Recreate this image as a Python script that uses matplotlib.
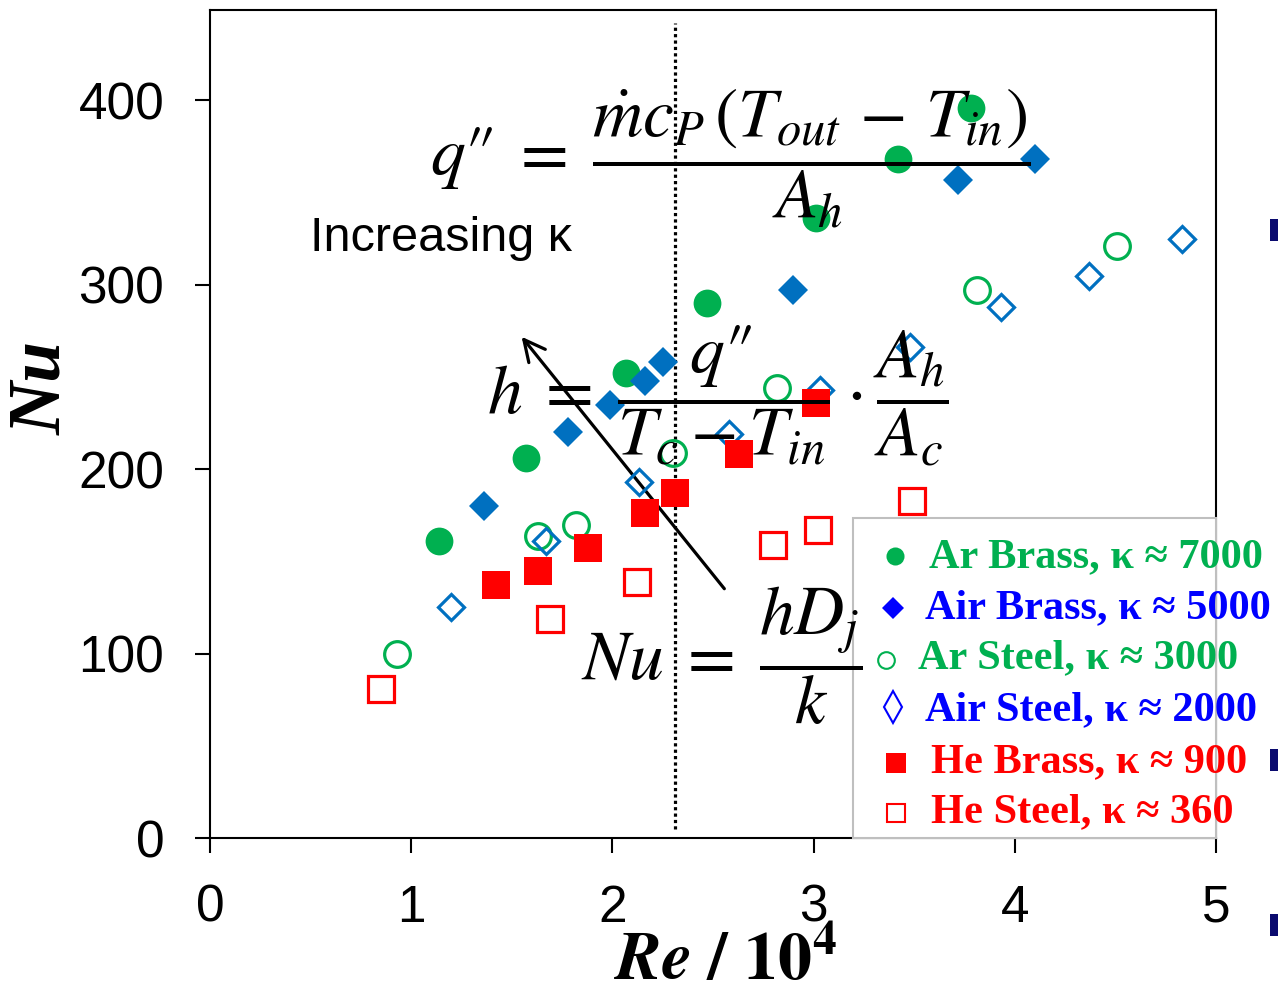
import numpy as np
import matplotlib
matplotlib.use('Agg')
import matplotlib.pyplot as plt
from matplotlib.patches import Rectangle

plt.rcParams['font.family'] = ['Liberation Sans', 'DejaVu Sans']

# Re / 10^4 and Nu
ar_brass_re = [1.14, 1.57, 2.07, 2.47, 3.01, 3.42, 3.78]
ar_brass_nu = [161, 206, 252, 290, 336, 368, 396]

air_brass_re = [1.36, 1.78, 1.99, 2.16, 2.25, 2.90, 3.72, 4.10]
air_brass_nu = [180, 220, 235, 248, 258, 297, 357, 368]

ar_steel_re = [0.93, 1.63, 1.82, 2.30, 2.82, 3.81, 4.51]
ar_steel_nu = [100, 164, 170, 209, 244, 297, 321]

air_steel_re = [1.20, 1.67, 2.13, 2.58, 3.03, 3.48, 3.93, 4.37, 4.83]
air_steel_nu = [125, 161, 193, 219, 243, 266, 288, 305, 325]

he_brass_re = [1.42, 1.63, 1.88, 2.16, 2.31, 2.63, 3.01]
he_brass_nu = [137, 145, 157, 176, 187, 208, 236]

he_steel_re = [0.85, 1.69, 2.12, 2.80, 3.02, 3.49]
he_steel_nu = [81, 119, 139, 159, 167, 183]

legend_labels = ['Ar Brass, \u03ba \u2248 7000', 'Air Brass, \u03ba \u2248 5000',
                 'Ar Steel, \u03ba \u2248 3000', 'Air Steel, \u03ba \u2248 2000',
                 'He Brass, \u03ba \u2248 900', 'He Steel, \u03ba \u2248 360']

re_line = 2.31

green = '#00B050'
blue = '#0070C0'
red = '#FF0000'

W, H = 1278, 992
fig = plt.figure(figsize=(W / 100, H / 100), dpi=100)
ax = fig.add_axes([210 / W, 1 - 838 / H, (1216 - 210) / W, (838 - 10) / H])

def fx(px):
    return px / W

def fy(py):
    return 1 - py / H

ax.plot(ar_brass_re, ar_brass_nu, 'o', color=green, ms=20, mew=0, zorder=4)
ax.plot(air_brass_re, air_brass_nu, 'D', color=blue, ms=14.8, mew=0, zorder=4)
ax.plot(ar_steel_re, ar_steel_nu, 'o', mfc='none', mec=green, ms=18.5, mew=2.3, zorder=4)
ax.plot(air_steel_re, air_steel_nu, 'D', mfc='none', mec=blue, ms=13.6, mew=2.3, zorder=4)
ax.plot(he_brass_re, he_brass_nu, 's', color=red, ms=20, mew=0, zorder=4)
ax.plot(he_steel_re, he_steel_nu, 's', mfc='none', mec=red, ms=18.5, mew=2.3, zorder=4)

ax.vlines(re_line, 5, 442, colors='black', linestyles=(0, (1, 1)), lw=2.3, zorder=3)

ax.annotate('', xy=(1.54, 273), xytext=(2.565, 134),
            arrowprops=dict(arrowstyle='->', lw=2.3, color='black', mutation_scale=38),
            zorder=3)
ax.text(0.497, 325, 'Increasing \u03ba', fontsize=35, ha='left', va='center', zorder=3)

# equations
eq_kw = dict(fontsize=50, ha='center', va='center', math_fontfamily='stix', zorder=7)
fig.text(fx(730), fy(158), r"$q\prime\!\prime \;=\; \dfrac{\dot{m}c_P\,(T_{out} \,-\, T_{in})}{A_h}$", **eq_kw)
fig.text(fx(718), fy(396), r"$h \;=\; \dfrac{q\prime\!\prime}{T_c - T_{in}} \cdot \dfrac{A_h}{A_c}$", **eq_kw)
fig.text(fx(722), fy(656), r'$Nu \;=\; \dfrac{hD_j}{k}$', **eq_kw)

ax.set_xlim(0, 5)
ax.set_ylim(0, 449)
ax.set_xticks([0, 1, 2, 3, 4, 5])
ax.set_yticks([0, 100, 200, 300, 400])
ax.tick_params(direction='out', length=11, width=1.5, labelsize=37, pad=22)
for s in ax.spines.values():
    s.set_linewidth(1.5)

fig.text(fx(42), fy(388), 'Nu', rotation=90, ha='center', va='center', fontsize=53,
         family='Liberation Serif', weight='bold', style='italic')
fig.text(fx(725), fy(961), r'$\mathbfit{Re}\ \mathbf{/\ 10^{4}}$', ha='center', va='center',
         fontsize=49, math_fontfamily='stix')

# legend box in the lower right corner
box = Rectangle((fx(853), fy(838)), fx(1216) - fx(853), fy(518) - fy(838),
                transform=fig.transFigure, facecolor='white', edgecolor='#BFBFBF', lw=1.5, zorder=5)
fig.patches.append(box)

leg_colors = [green, '#0000FF', green, '#0000FF', red, red]
leg_marker_x = [895, 893, 886, 893, 896, 896]
leg_marker_y = [556, 608, 660, 707, 763, 813]
leg_text_x = [929, 925, 918, 925, 931, 931]
leg_base_y = [567, 618, 668, 720, 772, 822]
leg_styles = [dict(marker='o', ms=13, mfc=green, mec=green, mew=0),
              dict(marker='D', ms=11, mfc='#0000FF', mec='#0000FF', mew=0),
              dict(marker='o', ms=12, mfc='none', mec=green, mew=1.5),
              dict(marker='d', ms=16, mfc='none', mec='#0000FF', mew=1.5),
              dict(marker='s', ms=14, mfc=red, mec=red, mew=0),
              dict(marker='s', ms=13, mfc='none', mec=red, mew=1.5)]
for i in range(6):
    fig.add_artist(plt.Line2D([fx(leg_marker_x[i])], [fy(leg_marker_y[i])], ls='none',
                              transform=fig.transFigure, zorder=6, **leg_styles[i]))
    fig.text(fx(leg_text_x[i]), fy(leg_base_y[i]), legend_labels[i], color=leg_colors[i],
             fontsize=30.5, family='Liberation Serif', weight='bold', ha='left', va='baseline',
             zorder=6)

# slide leftovers at the right edge
for py in [230, 760, 925]:
    fig.patches.append(Rectangle((fx(1270), fy(py + 11)), fx(10), fy(0) - fy(22),
                                 transform=fig.transFigure, facecolor='#0A0A6E', edgecolor='none'))

fig.savefig('out.png', dpi=100)
